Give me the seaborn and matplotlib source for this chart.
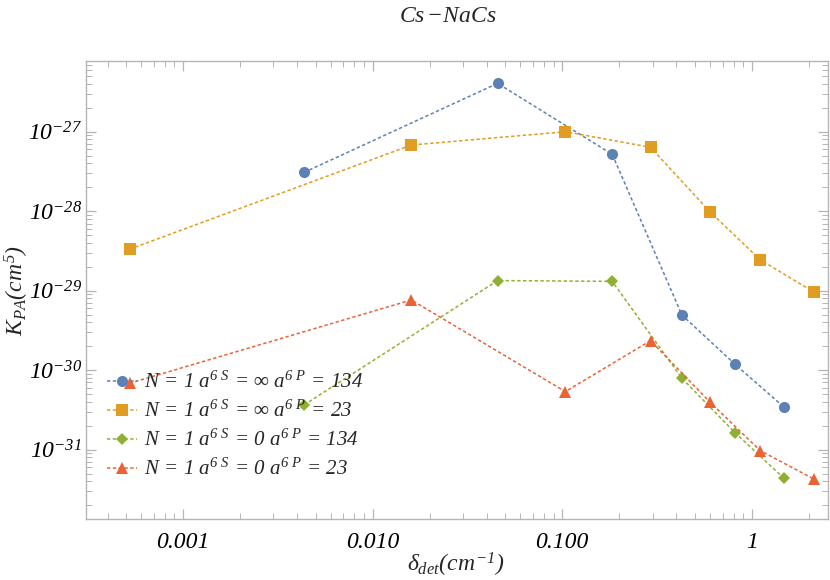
import numpy as np
import pandas as pd
import matplotlib
matplotlib.use("Agg")
import matplotlib.pyplot as plt
import matplotlib.ticker as mticker
import seaborn as sns

# detuning values (cm^-1)
x_134 = [0.00435, 0.0456, 0.1834, 0.4276, 0.8133, 1.475]
x_23 = [0.000523, 0.0160, 0.1038, 0.292, 0.6027, 1.106, 2.13]

# K_PA values (cm^5)
k_inf_134 = [3.08e-28, 4.06e-27, 5.20e-28, 4.94e-30, 1.19e-30, 3.44e-31]
k_inf_23 = [3.32e-29, 6.80e-28, 1.00e-27, 6.37e-28, 9.77e-29, 2.45e-29, 9.55e-30]
k_zero_134 = [3.65e-31, 1.34e-29, 1.31e-29, 7.91e-31, 1.64e-31, 4.37e-32]
k_zero_23 = [6.84e-31, 7.64e-30, 5.37e-31, 2.35e-30, 3.94e-31, 9.71e-32, 4.25e-32]

labels = [
    r"$N\,=\,1\ a^{6\ S}\,=\,\infty\ a^{6\ P}\,=\,134$",
    r"$N\,=\,1\ a^{6\ S}\,=\,\infty\ a^{6\ P}\,=\,23$",
    r"$N\,=\,1\ a^{6\ S}\,=\,0\ a^{6\ P}\,=\,134$",
    r"$N\,=\,1\ a^{6\ S}\,=\,0\ a^{6\ P}\,=\,23$",
]
colors = ["#5E81B5", "#E19C24", "#8FB032", "#EB6235"]
markers = ["o", "s", "D", "^"]
sizes = [8, 9, 6.5, 9]

sns.set_style("ticks")
plt.rcParams["font.family"] = ["Liberation Serif", "DejaVu Serif"]
plt.rcParams["mathtext.fontset"] = "custom"
plt.rcParams["mathtext.rm"] = "Liberation Serif:italic"
plt.rcParams["mathtext.it"] = "Liberation Serif:italic"
plt.rcParams["mathtext.default"] = "it"

fig = plt.figure(figsize=(8.3, 5.8), dpi=100)
ax = fig.add_axes([86 / 830, 1 - 519 / 580, (828 - 86) / 830, (519 - 61) / 580])
ax.set_xscale("log")
ax.set_yscale("log")

series = [(x_134, k_inf_134), (x_23, k_inf_23), (x_134, k_zero_134), (x_23, k_zero_23)]
for (xs, ys), lab, col, mk, ms in zip(series, labels, colors, markers, sizes):
    df = pd.DataFrame({"x": xs, "y": ys})
    sns.lineplot(data=df, x="x", y="y", ax=ax, color=col, marker=mk, markersize=ms,
                 markeredgewidth=0, linewidth=1.1, dashes=False, linestyle=(0, (2.2, 1.6)),
                 label=lab, estimator=None)

ax.set_xlim(3.08e-4, 2.52)
ax.set_ylim(1.34e-32, 7.76e-27)

ax.set_xticks([0.001, 0.01, 0.1, 1])
ax.set_xticklabels(["0.001", "0.010", "0.100", "1"])
ax.xaxis.set_minor_locator(mticker.LogLocator(base=10, subs=np.arange(2, 10), numticks=20))
ax.xaxis.set_minor_formatter(mticker.NullFormatter())
ax.yaxis.set_major_locator(mticker.LogLocator(base=10, numticks=20))
ax.yaxis.set_major_formatter(mticker.FuncFormatter(lambda v, p: r"$10^{%d}$" % round(np.log10(v))))
ax.yaxis.set_minor_locator(mticker.LogLocator(base=10, subs=np.arange(2, 10), numticks=20))
ax.yaxis.set_minor_formatter(mticker.NullFormatter())
ax.xaxis.offsetText.set_visible(False)
ax.yaxis.offsetText.set_visible(False)

frame_col = "#b5b5b5"
for sp in ax.spines.values():
    sp.set_color(frame_col)
    sp.set_linewidth(1.0)
ax.tick_params(which="both", direction="in", top=True, right=True, color=frame_col,
               labelsize=17, labelcolor="black")
ax.tick_params(which="major", length=7, width=0.9)
ax.tick_params(axis="x", which="major", pad=9)
ax.tick_params(axis="y", which="major", pad=3)
ax.tick_params(which="minor", length=4, width=0.7)
for t in ax.get_xticklabels():
    t.set_fontstyle("italic")

ax.set_xlabel(r"$\delta_{det}(cm^{-1})$", fontsize=17, va="center")
ax.xaxis.set_label_coords((456 - 86) / 742, -(565 - 519) / 458)
ax.set_ylabel(r"$K_{PA}(cm^5)$", fontsize=17, va="center")
ax.yaxis.set_label_coords(-(86 - 17) / 742, (519 - 290) / 458)
fig.text(448 / 830, 1 - 16 / 580, r"$Cs\,{-}NaCs$", fontsize=17, ha="center", va="center")

ax.legend(loc="lower left", bbox_to_anchor=(0.009, 0.053), frameon=False, fontsize=15,
          handlelength=1.45, handletextpad=0.3, labelspacing=0.38, borderaxespad=0.3)

fig.savefig("out.png", dpi=100)
